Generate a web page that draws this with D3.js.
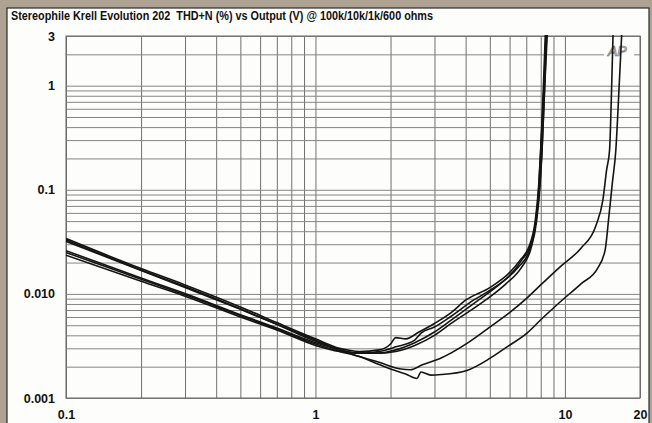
<!DOCTYPE html>
<html>
<head>
<meta charset="utf-8">
<script src="https://cdn.jsdelivr.net/npm/d3@7"></script>
<style>
  html, body { margin: 0; padding: 0; background: #aea392; }
  svg { display: block; }
  .title { white-space: pre; }
</style>
</head>
<body>
<svg id="chart" width="652" height="423"></svg>
<script>
// THD+N (%) versus output voltage, one series per load / channel
const titleText = "Stereophile Krell Evolution 202  THD+N (%) vs Output (V) @ 100k/10k/1k/600 ohms";

const xTickValues = [0.1, 1, 10, 20];
const xTickLabels = ["0.1", "1", "10", "20"];
const yTickValues = [3, 1, 0.1, 0.01, 0.001];
const yTickLabels = ["3", "1", "0.1", "0.010", "0.001"];

// [volts, THD+N %]
const seriesA1 = [[0.1,0.034],[0.2,0.0175],[0.3,0.0122],[0.5,0.0075],[0.7,0.0053],[1.0,0.0037],[1.25,0.0030],[1.5,0.0028],[1.8,0.0029],[2.0,0.0033],[2.1,0.0038],[2.3,0.0037],[2.6,0.0043],[3.0,0.0052],[3.5,0.0066],[4.0,0.0087],[5.0,0.0115],[6.0,0.016],[6.6,0.021],[7.2,0.029],[7.6,0.05],[7.85,0.11],[8.0,0.25],[8.25,1.0],[8.4,3.2]];
const seriesA2 = [[0.1,0.032],[0.2,0.0168],[0.3,0.0115],[0.5,0.0071],[0.7,0.0051],[1.0,0.0036],[1.25,0.0029],[1.5,0.0027],[1.8,0.0028],[2.1,0.0031],[2.5,0.0036],[2.65,0.0042],[3.0,0.0048],[3.5,0.0061],[4.3,0.0087],[5.0,0.0108],[6.0,0.015],[6.7,0.021],[7.3,0.03],[7.7,0.055],[7.95,0.12],[8.1,0.25],[8.3,1.0],[8.45,3.2]];
const seriesA3 = [[0.1,0.026],[0.2,0.0142],[0.3,0.0101],[0.5,0.0063],[0.7,0.0047],[1.0,0.0034],[1.25,0.0029],[1.5,0.0027],[1.8,0.0027],[2.1,0.0029],[2.5,0.0034],[3.0,0.0043],[3.5,0.0056],[4.5,0.0087],[5.5,0.0125],[6.5,0.018],[7.2,0.026],[7.6,0.045],[7.85,0.1],[8.0,0.24],[8.2,1.0],[8.35,3.2]];
const seriesA4 = [[0.1,0.0235],[0.2,0.0132],[0.3,0.0095],[0.5,0.006],[0.7,0.0045],[1.0,0.0032],[1.25,0.0028],[1.5,0.0027],[1.8,0.0027],[2.1,0.0028],[2.5,0.0032],[3.0,0.004],[3.5,0.0052],[4.8,0.0087],[5.8,0.0125],[6.7,0.018],[7.3,0.027],[7.7,0.05],[7.95,0.11],[8.1,0.24],[8.3,1.0],[8.5,3.2]];
const seriesB  = [[0.1,0.033],[0.2,0.017],[0.3,0.0118],[0.5,0.0072],[0.7,0.0051],[1.0,0.0035],[1.25,0.0029],[1.5,0.0025],[1.8,0.0022],[2.2,0.0019],[2.4,0.00187],[2.7,0.0021],[3.16,0.0024],[4.05,0.00335],[5.0,0.0048],[6.0,0.0066],[7.0,0.009],[8.0,0.0122],[9.64,0.0185],[11.6,0.0275],[13.3,0.045],[14.2,0.08],[14.7,0.156],[15.1,0.24],[15.4,1.0],[15.6,3.2]];
const seriesC  = [[0.1,0.025],[0.2,0.0138],[0.3,0.0098],[0.5,0.0062],[0.7,0.0046],[1.0,0.0033],[1.25,0.0028],[1.5,0.0025],[1.8,0.0021],[2.0,0.0019],[2.3,0.0017],[2.55,0.00154],[2.65,0.00178],[2.9,0.00166],[3.2,0.00168],[4.05,0.00184],[5.0,0.0024],[5.86,0.0031],[7.05,0.0042],[8.1,0.0058],[9.37,0.0080],[11.6,0.0125],[13.5,0.0175],[14.5,0.0265],[15.0,0.055],[15.5,0.117],[16.0,0.24],[16.5,1.0],[16.9,3.2]];

const allSeries = [seriesA1, seriesA2, seriesA3, seriesA4, seriesB, seriesC];

// gridline values: 1..9 per decade, 2 and 3 at the top, 20 at the right
const xGrid = [];
[0.1, 1].forEach(d => { for (let k = 1; k <= 9; k++) xGrid.push(+(d * k).toFixed(3)); });
xGrid.push(10, 20);
const yGrid = [];
[0.001, 0.01, 0.1].forEach(d => { for (let k = 1; k <= 9; k++) yGrid.push(+(d * k).toFixed(5)); });
yGrid.push(1, 2, 3);

const svg = d3.select("#chart");
const font = "'Liberation Sans', Arial, sans-serif";

// paper panel
svg.append("rect").attr("x", 7).attr("y", 8).attr("width", 642).attr("height", 420)
  .attr("fill", "#fdfdfb").attr("stroke", "#2a2a2a").attr("stroke-width", 1.2);

svg.append("text").attr("class", "title").attr("x", 11).attr("y", 20)
  .attr("font-family", font).attr("font-weight", "bold").attr("font-size", 12)
  .attr("fill", "#111")
  .attr("textLength", 422).attr("lengthAdjust", "spacingAndGlyphs")
  .text(titleText);

const plotL = 66, plotR = 640, plotT = 36, plotB = 398;
const x = d3.scaleLog().domain([0.1, 20]).range([plotL, plotR]);
const y = d3.scaleLog().domain([0.001, 3]).range([plotB, plotT]);

// grid
const grid = svg.append("g");
grid.append("g").attr("transform", `translate(0,${plotB})`)
  .call(d3.axisBottom(x).tickValues(xGrid).tickSize(-(plotB - plotT)).tickFormat(""))
  .call(g => g.select(".domain").remove())
  .call(g => g.selectAll("line").attr("stroke", "#707070").attr("stroke-width", 1));
grid.append("g").attr("transform", `translate(${plotL},0)`)
  .call(d3.axisLeft(y).tickValues(yGrid).tickSize(-(plotR - plotL)).tickFormat(""))
  .call(g => g.select(".domain").remove())
  .call(g => g.selectAll("line").attr("stroke", "#858585").attr("stroke-width", 1));

svg.append("rect").attr("x", plotL).attr("y", plotT)
  .attr("width", plotR - plotL).attr("height", plotB - plotT)
  .attr("fill", "none").attr("stroke", "#666").attr("stroke-width", 1);

// AP mark in the corner
svg.append("rect").attr("x", 604).attr("y", 44).attr("width", 30).attr("height", 14).attr("fill", "#fdfdfb");
svg.append("text").attr("x", 608).attr("y", 56)
  .attr("font-family", font).attr("font-style", "italic").attr("font-size", 14)
  .attr("fill", "none").attr("stroke", "#666").attr("stroke-width", 0.7)
  .text("AP");

// tick labels
svg.append("g").attr("transform", `translate(0,${plotB})`)
  .call(d3.axisBottom(x).tickValues(xTickValues).tickSize(0).tickPadding(12)
    .tickFormat((d, i) => xTickLabels[i]))
  .call(g => g.select(".domain").remove())
  .call(g => g.selectAll("text").attr("font-family", font).attr("font-weight", "bold")
    .attr("font-size", 12.5).attr("fill", "#111"));
svg.append("g").attr("transform", `translate(${plotL},0)`)
  .call(d3.axisLeft(y).tickValues(yTickValues).tickSize(0).tickPadding(11)
    .tickFormat((d, i) => yTickLabels[i]))
  .call(g => g.select(".domain").remove())
  .call(g => g.selectAll("text").attr("font-family", font).attr("font-weight", "bold")
    .attr("font-size", 12.5).attr("fill", "#111"));

// curves
svg.append("clipPath").attr("id", "plotClip")
  .append("rect").attr("x", plotL).attr("y", plotT - 1).attr("width", plotR - plotL).attr("height", plotB - plotT + 1);

const line = d3.line().x(d => x(d[0])).y(d => y(d[1])).curve(d3.curveMonotoneX);
svg.append("g").attr("clip-path", "url(#plotClip)")
  .selectAll("path").data(allSeries).join("path")
  .attr("d", line)
  .attr("fill", "none").attr("stroke", "#141414").attr("stroke-width", 1.6)
  .attr("stroke-linejoin", "round");
</script>
</body>
</html>
